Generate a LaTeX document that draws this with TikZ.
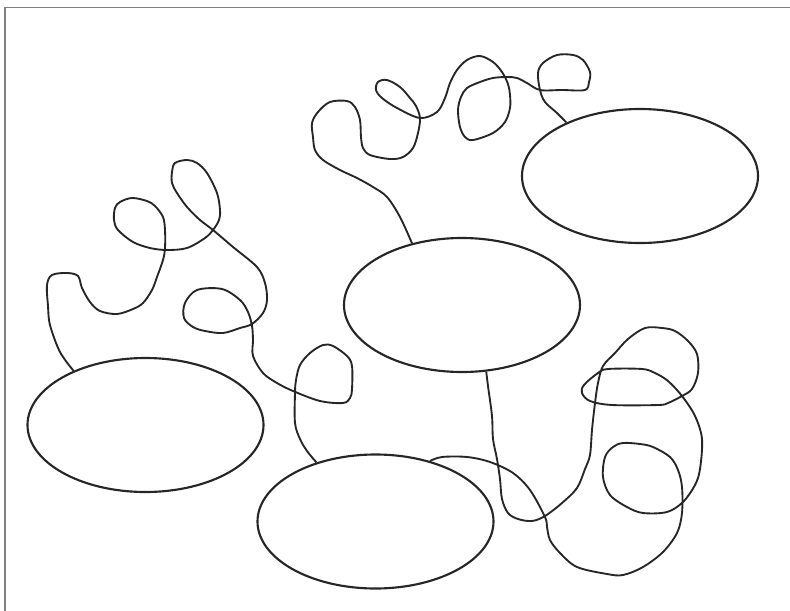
\documentclass[tikz,border=0pt]{standalone}
\usetikzlibrary{shapes.geometric}
\begin{document}
\begin{tikzpicture}[x=0.75pt, y=-0.75pt,
        enode/.style={ellipse, draw=black!85, line width=1.6pt, minimum width=177pt, minimum height=100.5pt, inner sep=0pt},
        cord/.style={draw=black!85, line width=1.4pt, line join=round},
        frame/.style={draw=black!50, line width=1.3pt}]
        \useasboundingbox (0,0) rectangle (790,611);
        % ---- frame ----
        \draw[frame] (790,7.5) -| (5,611);
        % ---- ellipses ----
        \node[enode] (E1) at (640,176) {};
        \node[enode] (E2) at (462,305) {};
        \node[enode] (E3) at (145.5,425) {};
        \node[enode] (E4) at (375.5,521.5) {};
        % ---- E3 -> E4 ----
        \draw[cord] plot[smooth, tension=0.55] coordinates {(E3.143) (60,352) (50,325) (48,306) (47,285) (52,275) (67,273) (78,276) (82,288) (90,302) (100,311) (117,314) (133,309) (143,303) (152,290) (157,277) (163,260) (165,248) (165,230) (163,217) (155,206) (147,201) (132,198) (120,202) (115,208) (114,220) (118,230) (133,242) (150,248) (167,250) (187,248) (205,238) (213,230) (219,220) (220,210) (217,193) (207,173) (197,163) (187,160) (175,163) (172,172) (172,183) (177,193) (187,207) (200,220) (213,230) (233,247) (257,267) (265,283) (267,300) (263,313) (252,324) (240,328) (223,333) (205,331) (193,327) (184,318) (185,303) (197,290) (222,289) (240,300) (248,312) (252,326) (253,340) (253,356) (263,373) (277,383) (293,391) (320,401) (343,403) (350,398) (352,389) (352,366) (347,356) (333,346) (323,345) (310,353) (300,365) (296,380) (295,393) (295,423) (300,439) (307,451) (E4.135)};
        % ---- E2 -> E1 ----
        \draw[cord] plot[smooth, tension=0.55] coordinates {(E2.129) (400,217) (387,197) (373,187) (357,178) (340,170) (323,160) (315,150) (313,137) (312,123) (318,112) (330,102) (347,101) (355,107) (360,120) (361,137) (363,148) (370,155) (390,159) (403,157) (413,148) (418,133) (420,118) (416,106) (410,98) (400,87) (387,80) (378,82) (376,90) (382,98) (397,108) (420,118) (437,112) (445,98) (450,83) (457,70) (467,60) (480,56) (493,62) (502,72) (508,84) (510,95) (510,108) (505,122) (493,133) (473,140) (465,137) (460,127) (458,110) (461,97) (467,88) (480,82) (493,78) (507,77) (517,78) (527,83) (540,90) (562,90) (585,90) (589,82) (590,72) (583,60) (573,55) (557,55) (543,63) (538,73) (540,90) (545,102) (557,113) (E1.144)};
        % ---- E2 -> E4 ----
        \draw[cord] plot[smooth, tension=0.55] coordinates {(E2.290) (488,386) (492,416) (493,439) (497,459) (500,479) (502,499) (508,513) (518,519) (532,521) (545,516) (562,503) (577,488) (585,469) (590,455) (592,430) (595,403) (598,383) (603,366) (615,353) (628,339) (645,328) (662,328) (675,331) (688,341) (697,354) (698,373) (692,389) (682,396) (668,403) (658,405) (612,405) (590,401) (582,393) (584,385) (598,373) (608,369) (642,369) (655,373) (668,381) (682,396) (695,416) (702,439) (700,469) (695,485) (683,502) (667,512) (643,513) (627,507) (610,495) (603,477) (605,457) (613,447) (623,443) (640,444) (653,447) (670,457) (678,470) (682,487) (682,513) (677,533) (663,552) (643,567) (623,575) (607,574) (577,567) (560,553) (550,540) (547,527) (545,517) (530,490) (513,473) (490,462) (467,457) (442,457) (E4.48)};
\end{tikzpicture}
\end{document}
